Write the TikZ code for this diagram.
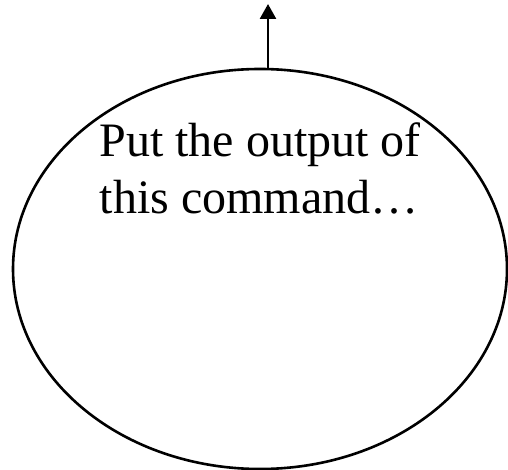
\documentclass[tikz,border=0pt]{standalone}
\usepackage{fontspec}
\setmainfont{Liberation Serif}
\usetikzlibrary{shapes.geometric,arrows.meta,calc}
\begin{document}
\begin{tikzpicture}[x=1pt,y=-1pt,
  bubble/.style={draw=black,line width=2.6pt,ellipse,minimum width=494pt,minimum height=400pt,inner sep=0pt},
  label/.style={font=\fontsize{48}{57}\selectfont,align=center,inner sep=0pt},
  uparrow/.style={draw=black,line width=2.6pt,-{Triangle[length=15pt,width=16pt]}}]
\useasboundingbox (0,0) rectangle (508,470);
\node[bubble] (e) at (260,269) {};
\node[label,anchor=base] (t1) at (260,157) {Put the output of};
\node[label,anchor=base] (t2) at (259,214) {this command…};
\coordinate (tip) at (268,4);
\draw[uparrow] ($(e.north)+(8,0)$) -- (tip);
\end{tikzpicture}
\end{document}
